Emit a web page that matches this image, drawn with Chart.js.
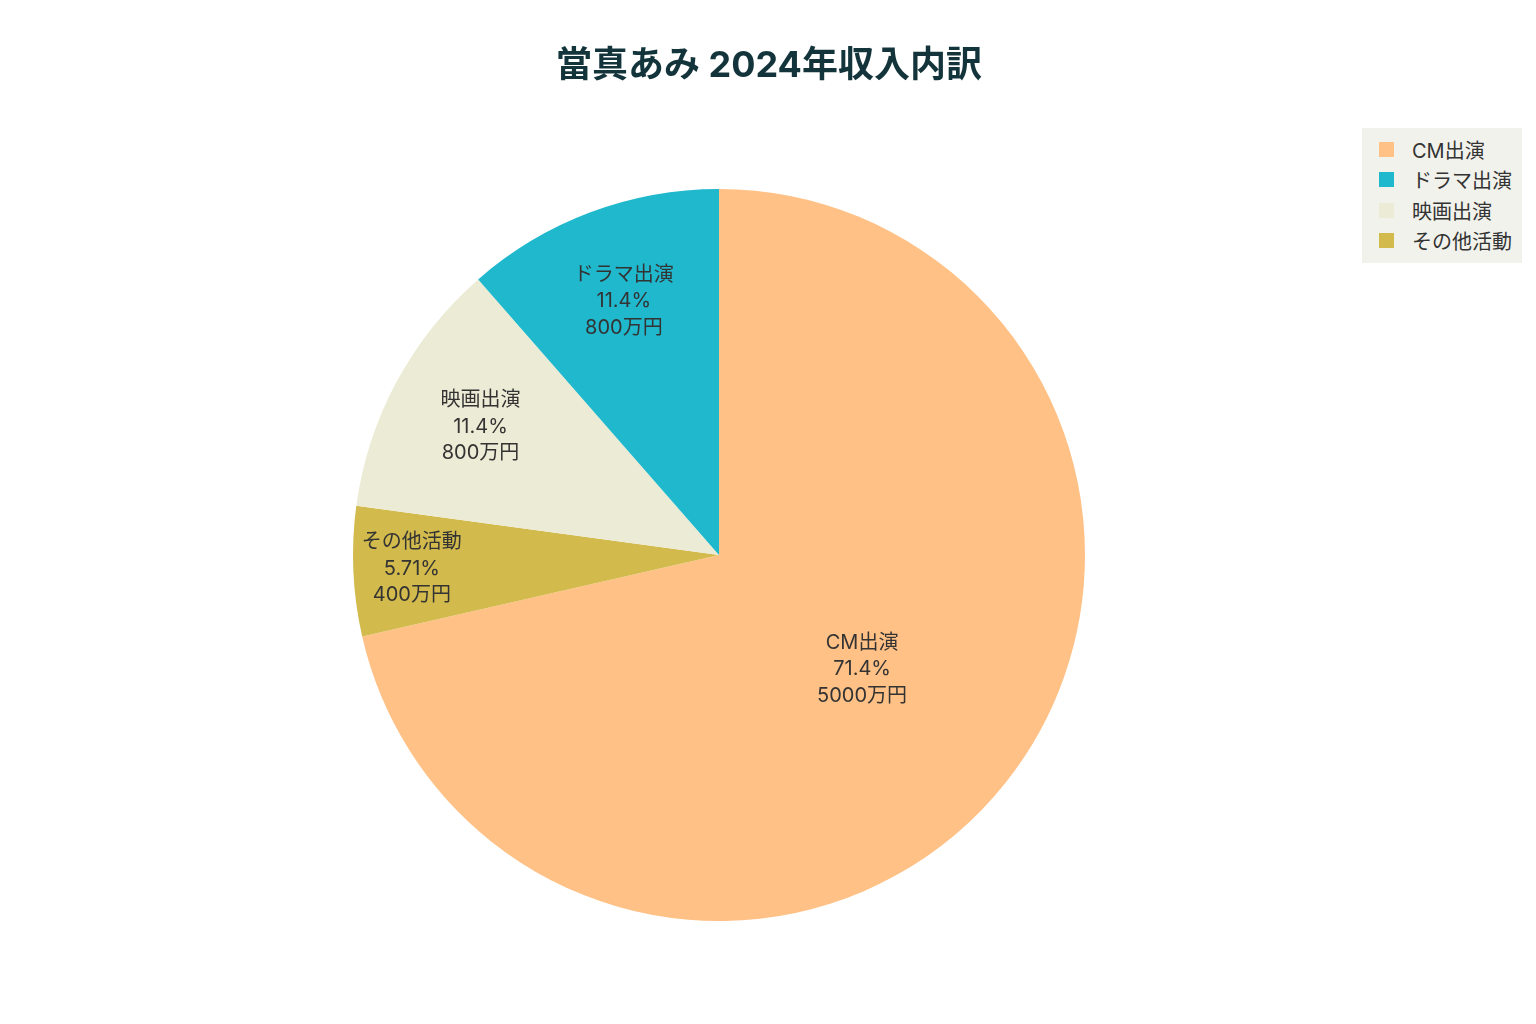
<!DOCTYPE html>
<html lang="ja">
<head>
<meta charset="utf-8">
<title>當真あみ 2024年収入内訳</title>
<script src="https://cdn.jsdelivr.net/npm/chart.js@4.4.1/dist/chart.umd.min.js"></script>
<style>
    html, body {
        margin: 0;
        padding: 0;
        background: #ffffff;
        font-family: Inter, "Noto Sans CJK JP", sans-serif;
    }
    #wrap {
        position: relative;
        width: 1536px;
        height: 1024px;
    }
    #title {
        position: absolute;
        left: 0;
        top: 35px;
        width: 1538px;
        text-align: center;
        font-size: 36px;
        font-weight: 700;
        color: #13343B;
    }
    #legend {
        position: absolute;
        left: 1362px;
        top: 128px;
        width: 160px;
        height: 135px;
        background: #F2F2EC;
        box-sizing: border-box;
        padding-top: 6px;
    }
    .legend-item {
        display: flex;
        align-items: center;
        height: 30.5px;
        font-size: 20px;
        color: #333333;
        white-space: nowrap;
    }
    .legend-box {
        width: 15px;
        height: 15px;
        margin-left: 17px;
        margin-right: 18px;
        flex: none;
    }
</style>
</head>
<body>
<div id="wrap">
    <canvas id="incomeChart" width="1536" height="1024"></canvas>
    <div id="title">當真あみ 2024年収入内訳</div>
    <div id="legend"></div>
</div>
<script>
// Slice data, in drawing order (clockwise from 12 o'clock)
const categories = ['CM出演', 'その他活動', '映画出演', 'ドラマ出演'];
const incomeValues = [5000, 400, 800, 800]; // 万円
const sliceColors = ['#FFC185', '#D2BA4C', '#ECEBD5', '#1FB8CD'];

// Legend order as shown in the reference
const legendOrder = ['CM出演', 'ドラマ出演', '映画出演', 'その他活動'];

// How far out (fraction of radius) each slice's label sits
const labelRadius = [0.5, 0.84, 0.74, 0.74];

/**
 * Draw name / percent / value text inside each slice
 */
const sliceLabels = {
    id: 'sliceLabels',
    afterDatasetsDraw(chart) {
        const ctx = chart.ctx;
        const meta = chart.getDatasetMeta(0);
        const total = incomeValues.reduce((a, b) => a + b, 0);

        ctx.save();
        ctx.font = '20px Inter, "Noto Sans CJK JP", sans-serif';
        ctx.fillStyle = '#333333';
        ctx.textAlign = 'center';
        ctx.textBaseline = 'middle';

        meta.data.forEach((arc, i) => {
            const mid = (arc.startAngle + arc.endAngle) / 2;
            const r = arc.outerRadius * labelRadius[i];
            const x = arc.x + Math.cos(mid) * r;
            const y = arc.y + Math.sin(mid) * r;
            const pct = (incomeValues[i] / total * 100).toPrecision(3) + '%';
            const lines = [categories[i], pct, incomeValues[i] + '万円'];
            lines.forEach((line, j) => {
                ctx.fillText(line, x, y + (j - 1) * 26.5);
            });
        });
        ctx.restore();
    }
};

new Chart(document.getElementById('incomeChart'), {
    type: 'pie',
    data: {
        labels: categories,
        datasets: [{
            data: incomeValues,
            backgroundColor: sliceColors,
            borderWidth: 0,
            hoverOffset: 0,
            offset: 0
        }]
    },
    options: {
        responsive: false,
        animation: false,
        layout: {
            padding: { top: 189, bottom: 103, left: 0, right: 98 }
        },
        plugins: {
            legend: { display: false },
            title: { display: false },
            tooltip: { enabled: false }
        }
    },
    plugins: [sliceLabels]
});

// Build the legend box
const legend = document.getElementById('legend');
legendOrder.forEach(name => {
    const idx = categories.indexOf(name);
    const item = document.createElement('div');
    item.className = 'legend-item';
    item.innerHTML = '<span class="legend-box" style="background:' + sliceColors[idx] + '"></span>' + name;
    legend.appendChild(item);
});
</script>
</body>
</html>
